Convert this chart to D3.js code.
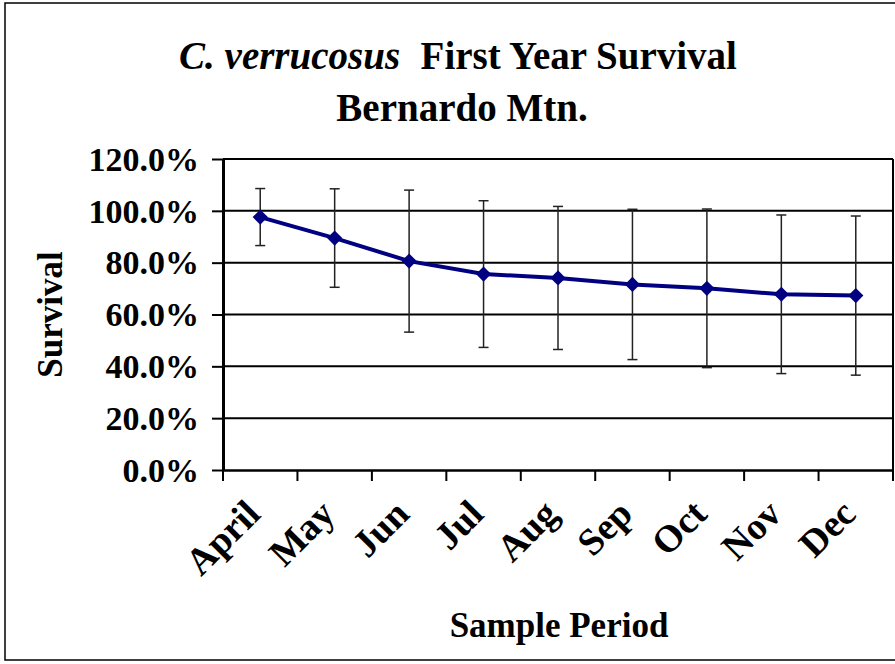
<!DOCTYPE html>
<html>
<head>
<meta charset="utf-8">
<script src="https://cdn.jsdelivr.net/npm/d3@7"></script>
<style>
  body { margin: 0; background: #fff; }
</style>
</head>
<body>
<svg id="chart"></svg>
<script>
// months on the x axis
var months = ["April", "May", "Jun", "Jul", "Aug", "Sep", "Oct", "Nov", "Dec"];
// survival (fraction) and error bar half-widths
var survival = [0.976, 0.895, 0.806, 0.756, 0.741, 0.716, 0.701, 0.678, 0.673];
var errors = [0.110, 0.190, 0.274, 0.283, 0.276, 0.290, 0.306, 0.306, 0.307];
var yTicks = [0, 0.2, 0.4, 0.6, 0.8, 1.0, 1.2];

var width = 895, height = 664;
var margin = {top: 159, right: 2, bottom: 194, left: 223};
var serif = "'Liberation Serif', 'Times New Roman', Times, serif";

var svg = d3.select("#chart").attr("width", width).attr("height", height);

// chart frame
svg.append("rect")
	.attr("x", 5).attr("y", 3)
	.attr("width", width).attr("height", 657)
	.attr("fill", "none").attr("stroke", "#000").attr("stroke-width", 1.5);

/*Scales*/
var xScale = d3.scaleBand()
	.domain(months)
	.range([margin.left, width - margin.right]);
var yScale = d3.scaleLinear()
	.domain([0, 1.2])
	.range([height - margin.bottom, margin.top]);

var fmt = d3.format(".1%");

/*Gridlines*/
svg.append("g").selectAll("line")
	.data(yTicks.slice(1))
	.enter().append("line")
	.attr("x1", margin.left).attr("x2", width - margin.right)
	.attr("y1", function(d) { return yScale(d); })
	.attr("y2", function(d) { return yScale(d); })
	.attr("stroke", "#000").attr("stroke-width", 2);

// right border of plot
svg.append("line")
	.attr("x1", width - margin.right).attr("x2", width - margin.right)
	.attr("y1", margin.top).attr("y2", height - margin.bottom)
	.attr("stroke", "#000").attr("stroke-width", 2);

/*Axes*/
var yAxis = d3.axisLeft(yScale).tickValues(yTicks).tickFormat(fmt).tickSizeInner(11).tickSizeOuter(0).tickPadding(13);
var gy = svg.append("g").attr("transform", "translate(" + margin.left + ",0)").call(yAxis);
gy.attr("font-family", serif).attr("font-size", 34).attr("font-weight", "bold");
gy.select(".domain").attr("stroke-width", 3);
gy.selectAll(".tick line").attr("stroke-width", 2);
gy.selectAll("text").attr("dy", "0.33em");

var xAxis = d3.axisBottom(xScale).tickSize(0).tickFormat("");
var gx = svg.append("g").attr("transform", "translate(0," + yScale(0) + ")").call(xAxis);
gx.attr("font-family", serif).attr("font-size", 38).attr("font-weight", "bold");
gx.select(".domain").attr("stroke-width", 2.5);

// tick marks between categories
var bounds = months.map(function(m) { return xScale(m); }).concat([xScale.range()[1]]);
gx.selectAll(".sep").data(bounds).enter().append("line")
	.attr("x1", function(d) { return d; }).attr("x2", function(d) { return d; })
	.attr("y1", 0).attr("y2", 11)
	.attr("stroke", "#000").attr("stroke-width", 2);

// rotated category labels
gx.selectAll(".lbl").data(months).enter().append("text")
	.attr("text-anchor", "end")
	.attr("fill", "#000")
	.attr("transform", function(d) {
		return "translate(" + (xScale(d) + xScale.bandwidth() / 2 + 2) + ",46) rotate(-45)";
	})
	.text(function(d) { return d; });

/*Error bars*/
var cx = function(i) { return xScale(months[i]) + xScale.bandwidth() / 2; };
var eb = svg.append("g").attr("stroke", "#222").attr("stroke-width", 1.5);
survival.forEach(function(v, i) {
	var hi = yScale(v + errors[i]), lo = yScale(v - errors[i]);
	eb.append("line").attr("x1", cx(i)).attr("x2", cx(i)).attr("y1", hi).attr("y2", lo);
	eb.append("line").attr("x1", cx(i) - 5).attr("x2", cx(i) + 5).attr("y1", hi).attr("y2", hi);
	eb.append("line").attr("x1", cx(i) - 5).attr("x2", cx(i) + 5).attr("y1", lo).attr("y2", lo);
});

/*Line and markers*/
var line = d3.line()
	.x(function(d, i) { return cx(i); })
	.y(function(d) { return yScale(d); });
svg.append("path").datum(survival)
	.attr("d", line)
	.attr("fill", "none").attr("stroke", "#000080").attr("stroke-width", 4);

var diamond = d3.symbol().type(d3.symbolSquare).size(115);
svg.append("g").selectAll("path")
	.data(survival)
	.enter().append("path")
	.attr("d", diamond)
	.attr("transform", function(d, i) { return "translate(" + cx(i) + "," + yScale(d) + ") rotate(45)"; })
	.attr("fill", "#000080");

/*Titles*/
var titles = svg.append("g").attr("font-family", serif).attr("font-weight", "bold").attr("fill", "#000");
var title = titles.append("text").attr("x", 458).attr("y", 69).attr("text-anchor", "middle").attr("font-size", 39);
title.append("tspan").attr("font-style", "italic").text("C. verrucosus");
title.append("tspan").attr("dx", 1).text("\u00a0 First Year Survival");
titles.append("text").attr("x", 462).attr("y", 121).attr("text-anchor", "middle").attr("font-size", 39)
	.text("Bernardo Mtn.");

titles.append("text").attr("x", 559).attr("y", 637).attr("text-anchor", "middle").attr("font-size", 35)
	.text("Sample Period");

titles.append("text")
	.attr("transform", "translate(62," + (margin.top + (height - margin.bottom - margin.top) / 2) + ") rotate(-90)")
	.attr("text-anchor", "middle").attr("font-size", 35)
	.text("Survival");
</script>
</body>
</html>
